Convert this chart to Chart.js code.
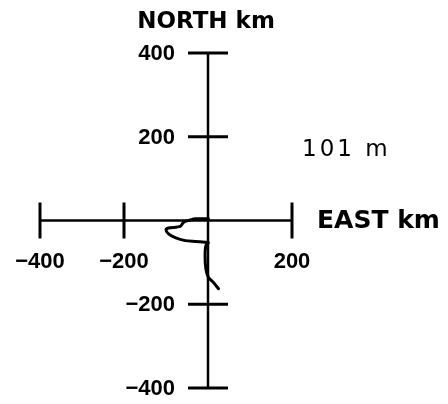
<!DOCTYPE html>
<html>
<head>
<meta charset="utf-8">
<script src="https://cdn.jsdelivr.net/npm/chart.js@4.4.1/dist/chart.umd.min.js"></script>
<style>
  html, body { margin: 0; padding: 0; background: #fff; }
</style>
</head>
<body>
<canvas id="hodograph" width="448" height="404"></canvas>
<script>
// trajectory, km east / km north of the start point
const eastKm  = [1, -31, -47, -58, -66, -94, -100, -94, -78, -54, -31, -7, 1, -5, -7, -5, 1, 13, 25];
const northKm = [4, 4, 0, -4, -14, -18, -22, -32, -41, -48, -50, -52, -53, -60, -84, -116, -136, -148, -163];

const eastTicks  = [-400, -200, 200];
const northTicks = [400, 200, -200, -400];
const eastRange  = [-400, 200];
const northRange = [-400, 400];

const levelText = '101 m';

const points = eastKm.map((e, i) => ({ x: e, y: northKm[i] }));

const tickFont = 'bold 22px "Liberation Sans", Arial, sans-serif';
const titleFont = 'bold 23px "DejaVu Sans", sans-serif';

// draws the cross-shaped axes with their ticks and labels
const crossAxes = {
    id: 'crossAxes',
    beforeDatasetsDraw(chart) {
        const ctx = chart.ctx;
        const xs = chart.scales.x;
        const ys = chart.scales.y;
        const x0 = xs.getPixelForValue(0);
        const y0 = ys.getPixelForValue(0);

        ctx.save();
        ctx.strokeStyle = '#000';
        ctx.lineCap = 'butt';

        // axis lines
        ctx.lineWidth = 2.5;
        ctx.beginPath();
        ctx.moveTo(xs.getPixelForValue(eastRange[0]), y0);
        ctx.lineTo(xs.getPixelForValue(eastRange[1]), y0);
        ctx.moveTo(x0, ys.getPixelForValue(northRange[0]));
        ctx.lineTo(x0, ys.getPixelForValue(northRange[1]));
        ctx.stroke();

        // ticks
        ctx.lineWidth = 3;
        ctx.beginPath();
        eastTicks.forEach(v => {
            const px = xs.getPixelForValue(v);
            ctx.moveTo(px, y0 - 18);
            ctx.lineTo(px, y0 + 18);
        });
        northTicks.forEach(v => {
            const py = ys.getPixelForValue(v);
            ctx.moveTo(x0 - 20, py);
            ctx.lineTo(x0 + 20, py);
        });
        ctx.stroke();

        // tick labels
        ctx.fillStyle = '#000';
        ctx.font = tickFont;
        ctx.textBaseline = 'middle';
        ctx.textAlign = 'center';
        eastTicks.forEach(v => {
            const txt = v < 0 ? '\u2212' + Math.abs(v) : String(v);
            ctx.fillText(txt, xs.getPixelForValue(v), y0 + 41);
        });
        ctx.textAlign = 'right';
        northTicks.forEach(v => {
            const txt = v < 0 ? '\u2212' + Math.abs(v) : String(v);
            ctx.fillText(txt, x0 - 33, ys.getPixelForValue(v) + 1);
        });

        // axis titles
        ctx.font = titleFont;
        ctx.textAlign = 'center';
        ctx.fillText('NORTH km', x0 - 2, 22);
        ctx.font = 'bold 25px "DejaVu Sans", sans-serif';
        ctx.textAlign = 'left';
        ctx.fillText('EAST km', xs.getPixelForValue(eastRange[1]) + 25, y0 + 1);

        // level annotation
        ctx.font = '23px "DejaVu Sans", sans-serif';
        ctx.letterSpacing = '3px';
        ctx.fillText(levelText, 302, 150);
        ctx.restore();
    }
};

new Chart(document.getElementById('hodograph'), {
    type: 'scatter',
    data: {
        datasets: [{
            data: points,
            showLine: true,
            borderColor: '#000',
            borderWidth: 3,
            borderCapStyle: 'round',
            borderJoinStyle: 'round',
            tension: 0.25,
            pointRadius: 0
        }]
    },
    options: {
        responsive: false,
        animation: false,
        layout: {
            padding: { left: 40, right: 156, top: 53, bottom: 16 }
        },
        scales: {
            x: { type: 'linear', min: eastRange[0], max: eastRange[1], display: false },
            y: { type: 'linear', min: northRange[0], max: northRange[1], display: false }
        },
        plugins: {
            legend: { display: false },
            tooltip: { enabled: false }
        }
    },
    plugins: [crossAxes]
});
</script>
</body>
</html>
